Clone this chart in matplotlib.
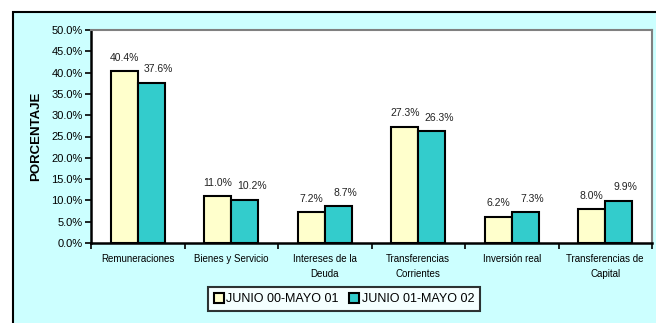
import matplotlib
matplotlib.use("Agg")
import matplotlib.pyplot as plt
import numpy as np
from matplotlib.patches import Rectangle
from matplotlib.ticker import FixedLocator, PercentFormatter

categories = [
    "Remuneraciones",
    "Bienes y Servicio",
    "Intereses de la\nDeuda",
    "Transferencias\nCorrientes",
    "Inversión real",
    "Transferencias de\nCapital",
]
series_names = ["JUNIO 00-MAYO 01", "JUNIO 01-MAYO 02"]
periodo_1 = [40.4, 11.0, 7.2, 27.3, 6.2, 8.0]
periodo_2 = [37.6, 10.2, 8.7, 26.3, 7.3, 9.9]
colors = ["#FFFFCC", "#33CCCC"]

plt.rcParams["font.family"] = ["Liberation Sans", "DejaVu Sans"]

fig = plt.figure(figsize=(6.56, 3.23), dpi=100)
fig.patch.set_facecolor("white")

# chart area background with black frame (runs past right/bottom edge)
fig.patches.append(Rectangle((13 / 656, -0.2), 1.2, 0.2 + 1 - 12 / 323,
                             transform=fig.transFigure, facecolor="#CCFFFF",
                             edgecolor="black", linewidth=1.5, zorder=-5))

ax = fig.add_axes([91 / 656, 1 - 243 / 323, (652 - 91) / 656, (243 - 30) / 323])
ax.set_facecolor("white")
ax.set_zorder(2)

x = np.arange(len(categories))
width = 0.29
bars1 = ax.bar(x - width / 2, periodo_1, width, color=colors[0], edgecolor="black",
               linewidth=1.5, label=series_names[0], zorder=3)
bars2 = ax.bar(x + width / 2, periodo_2, width, color=colors[1], edgecolor="black",
               linewidth=1.5, label=series_names[1], zorder=3)

for bars, dx in ((bars1, 0), (bars2, 5)):
    for bar in bars:
        h = bar.get_height()
        ax.annotate(f"{h:.1f}%", (bar.get_x() + bar.get_width() / 2, h),
                    xytext=(dx, 6), textcoords="offset points",
                    ha="center", va="bottom", fontsize=7.5, color="#222222")

ax.set_xlim(-0.5, len(categories) - 0.5)
ax.set_ylim(0, 50)
ax.yaxis.set_major_locator(FixedLocator(np.arange(0, 50.1, 5)))
ax.yaxis.set_major_formatter(PercentFormatter(decimals=1))
ax.tick_params(axis="y", direction="out", length=4, width=1.2, labelsize=8, pad=2)

ax.set_xticks(x)
ax.set_xticklabels(categories, fontsize=7, linespacing=1.6)
ax.set_xticks(np.arange(-0.5, len(categories)), minor=True)
ax.tick_params(axis="x", which="major", length=0, pad=8)
ax.tick_params(axis="x", which="minor", direction="out", length=4, width=1.2)

for side in ("left", "bottom"):
    ax.spines[side].set_color("black")
    ax.spines[side].set_linewidth(1.8)
for side in ("top", "right"):
    ax.spines[side].set_color("#808080")
    ax.spines[side].set_linewidth(1.5)

fig.text(36 / 656, 1 - 136 / 323, "PORCENTAJE", rotation=90, fontsize=9.5,
         fontweight="bold", ha="center", va="center")

leg = fig.legend(loc="center", bbox_to_anchor=(344 / 656, 1 - 299 / 323), ncol=2,
                 fontsize=9, frameon=True, fancybox=False, handlelength=0.8,
                 handleheight=0.8, handletextpad=0.2, columnspacing=0.8,
                 borderpad=0.5)
leg.get_frame().set_edgecolor("black")
leg.get_frame().set_linewidth(1.5)
leg.get_frame().set_facecolor("white")

fig.savefig("out.png", dpi=100)
